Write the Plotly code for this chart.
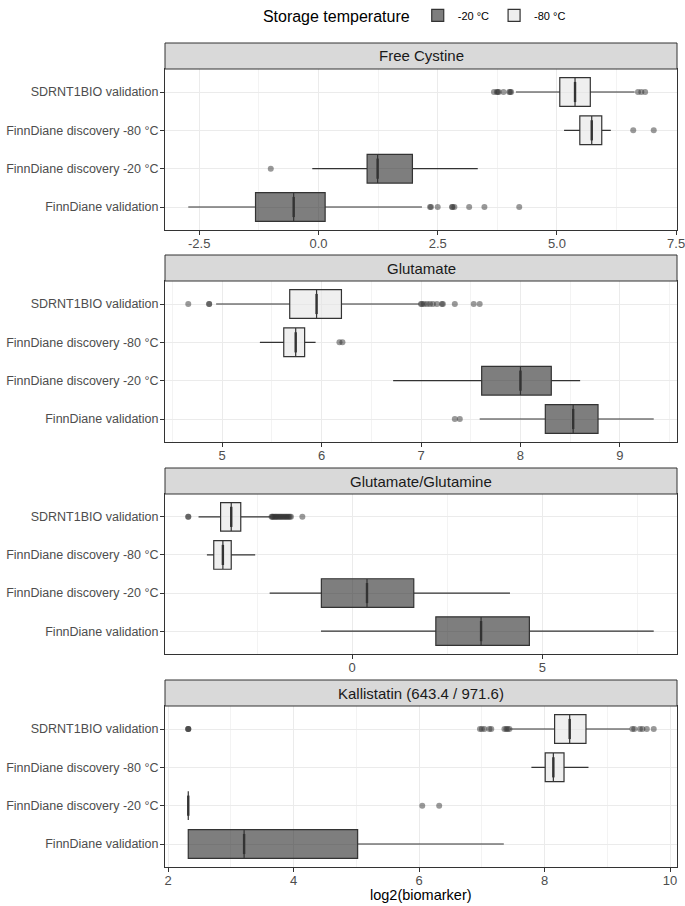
import plotly.graph_objects as go

# ---------------- data ----------------
categories = ["SDRNT1BIO validation", "FinnDiane discovery -80 °C",
              "FinnDiane discovery -20 °C", "FinnDiane validation"]
storage = ["-80 °C", "-80 °C", "-20 °C", "-20 °C"]
cat_order = categories[::-1]  # bottom -> top

panels = ["Free Cystine", "Glutamate", "Glutamate/Glutamine", "Kallistatin (643.4 / 971.6)"]

cys_lo = [4.14, 5.15, -0.13, -2.73]
cys_q1 = [5.06, 5.48, 1.02, -1.32]
cys_med = [5.38, 5.73, 1.24, -0.52]
cys_q3 = [5.70, 5.94, 1.97, 0.14]
cys_hi = [6.63, 6.13, 3.34, 2.17]
cys_out = [[3.68, 3.74, 3.76, 3.78, 3.88, 4.00, 4.02, 4.04, 6.70, 6.77, 6.85],
           [6.60, 7.03],
           [-1.00],
           [2.34, 2.36, 2.50, 2.80, 2.81, 2.85, 3.16, 3.48, 4.21]]

glu_lo = [4.94, 5.38, 6.72, 7.59]
glu_q1 = [5.68, 5.62, 7.61, 8.25]
glu_med = [5.95, 5.74, 8.00, 8.53]
glu_q3 = [6.20, 5.83, 8.31, 8.78]
glu_hi = [6.98, 5.94, 8.60, 9.34]
glu_out = [[4.66, 4.87, 4.87, 7.00, 7.01, 7.03, 7.06, 7.09, 7.12, 7.16, 7.21, 7.22, 7.34, 7.53, 7.59],
           [6.18, 6.21],
           [],
           [7.34, 7.39]]

gg_lo = [-4.04, -3.82, -2.17, -0.82]
gg_q1 = [-3.46, -3.64, -0.81, 2.20]
gg_med = [-3.18, -3.40, 0.39, 3.39]
gg_q3 = [-2.93, -3.18, 1.62, 4.66]
gg_hi = [-2.14, -2.55, 4.15, 7.93]
gg_out = [[-4.31, -4.31, -2.12, -2.10, -2.08, -2.05, -2.02, -2.00, -1.97, -1.94, -1.91, -1.88,
           -1.85, -1.82, -1.79, -1.76, -1.73, -1.70, -1.67, -1.64, -1.61, -1.31],
          [], [], []]

kal_lo = [7.45, 7.79, 2.32, 2.32]
kal_q1 = [8.16, 8.01, 2.32, 2.32]
kal_med = [8.40, 8.14, 2.32, 3.21]
kal_q3 = [8.66, 8.31, 2.32, 5.02]
kal_hi = [9.36, 8.70, 2.32, 7.35]
kal_out = [[2.32, 2.32, 2.32, 6.97, 7.00, 7.04, 7.12, 7.15, 7.36, 7.39, 7.41, 7.44,
            9.40, 9.43, 9.52, 9.56, 9.63, 9.74],
           [], [6.05, 6.32], []]

cys_ticks = [-2.5, 0, 2.5, 5, 7.5]
cys_ticktext = ["-2.5", "0.0", "2.5", "5.0", "7.5"]
cys_minor = [-1.25, 1.25, 3.75, 6.25]
glu_ticks = [5, 6, 7, 8, 9]
glu_ticktext = ["5", "6", "7", "8", "9"]
glu_minor = [4.5, 5.5, 6.5, 7.5, 8.5, 9.5]
gg_ticks = [0, 5]
gg_ticktext = ["0", "5"]
gg_minor = [-2.5, 2.5, 7.5]
kal_ticks = [2, 4, 6, 8, 10]
kal_ticktext = ["2", "4", "6", "8", "10"]
kal_minor = [3, 5, 7, 9]

stats = [
    (cys_lo, cys_q1, cys_med, cys_q3, cys_hi, cys_out, cys_ticks, cys_ticktext, cys_minor),
    (glu_lo, glu_q1, glu_med, glu_q3, glu_hi, glu_out, glu_ticks, glu_ticktext, glu_minor),
    (gg_lo, gg_q1, gg_med, gg_q3, gg_hi, gg_out, gg_ticks, gg_ticktext, gg_minor),
    (kal_lo, kal_q1, kal_med, kal_q3, kal_hi, kal_out, kal_ticks, kal_ticktext, kal_minor),
]

# ---------------- style ----------------
W, H = 685, 906
ML, MR, MT, MB = 165, 8, 69, 39
PH = H - MT - MB
panel_px = [(69, 230), (281, 442), (494, 654), (706, 867)]
STRIP = 26

fills = {"-20 °C": "rgba(40,40,40,0.6)", "-80 °C": "rgba(228,228,228,0.6)"}
LINE = "#333333"
GRID = "#EBEBEB"
GRID_MINOR = "#F3F3F3"
FONT = "Liberation Sans, Arial, Helvetica, sans-serif"

fig = go.Figure()
layout = dict(
    width=W, height=H,
    margin=dict(l=ML, r=MR, t=MT, b=MB, pad=0, autoexpand=False),
    paper_bgcolor="white", plot_bgcolor="white",
    font=dict(family=FONT, color="#1A1A1A"),
    boxmode="overlay",
    showlegend=True,
    legend=dict(orientation="h", x=0.49, xanchor="center", y=1.066, yanchor="middle",
                title=dict(text="Storage temperature", font=dict(size=16, color="black"), side="left"),
                font=dict(size=11, color="black"), itemwidth=30, traceorder="normal",
                bgcolor="rgba(0,0,0,0)"),
    shapes=[], annotations=[],
)

for i, (lo, q1, med, q3, hi, outs, tv, tt, mv) in enumerate(stats):
    n = i + 1
    xa = "x" if n == 1 else f"x{n}"
    ya = "y" if n == 1 else f"y{n}"
    top_px, bot_px = panel_px[i]
    d0 = (H - MB - bot_px) / PH
    d1 = (H - MB - top_px) / PH

    for temp in ["-20 °C", "-80 °C"]:
        idx = [k for k in range(4) if storage[k] == temp]
        fig.add_trace(go.Box(
            orientation="h",
            y=[categories[k] for k in idx],
            q1=[q1[k] for k in idx], median=[med[k] for k in idx], q3=[q3[k] for k in idx],
            lowerfence=[lo[k] for k in idx], upperfence=[hi[k] for k in idx],
            width=0.75, whiskerwidth=0, boxpoints=False,
            fillcolor=fills[temp], line=dict(color=LINE, width=1.2),
            name=temp, legendgroup=temp, showlegend=(i == 0),
            xaxis=xa, yaxis=ya, hoverinfo="skip",
        ))
    # thick medians (ggplot fatten)
    fig.add_trace(go.Scatter(
        x=med, y=categories, mode="markers",
        marker=dict(symbol="line-ns", size=14.4, line=dict(color=LINE, width=2.4)),
        showlegend=False, xaxis=xa, yaxis=ya, hoverinfo="skip"))
    # outliers
    ox, oy = [], []
    for k in range(4):
        ox += outs[k]
        oy += [categories[k]] * len(outs[k])
    fig.add_trace(go.Scatter(
        x=ox, y=oy, mode="markers",
        marker=dict(size=6, color="rgba(51,51,51,0.5)", line=dict(width=0)),
        showlegend=False, xaxis=xa, yaxis=ya, hoverinfo="skip"))

    allv = lo + hi + [v for o in outs for v in o]
    vmin, vmax = min(allv), max(allv)
    pad = 0.05 * (vmax - vmin)

    xkey = "xaxis" if n == 1 else f"xaxis{n}"
    ykey = "yaxis" if n == 1 else f"yaxis{n}"
    layout[xkey] = dict(
        domain=[0, 1], anchor=ya, range=[vmin - pad, vmax + pad], automargin=False,
        tickmode="array", tickvals=tv, ticktext=tt, ticklabeloverflow="allow",
        ticks="outside", ticklen=4, tickwidth=1, tickcolor=LINE,
        tickfont=dict(size=13, color="#4D4D4D"), ticklabelstandoff=-3,
        showgrid=True, gridcolor=GRID, gridwidth=1,
        minor=dict(tickmode="array", tickvals=mv, showgrid=True, gridcolor=GRID_MINOR, gridwidth=1, ticks=""),
        showline=True, mirror=True, linecolor=LINE, linewidth=1, zeroline=False,
    )
    layout[ykey] = dict(
        domain=[d0, d1], anchor=xa, type="category", automargin=False,
        categoryorder="array", categoryarray=cat_order, range=[-0.6, 3.6],
        ticks="outside", ticklen=4, tickwidth=1, tickcolor=LINE,
        tickfont=dict(size=12.5, color="#4D4D4D"), ticklabelstandoff=-1,
        showgrid=True, gridcolor=GRID, gridwidth=1,
        showline=True, mirror=True, linecolor=LINE, linewidth=1, zeroline=False,
    )
    # strip
    s0 = d1
    s1 = d1 + STRIP / PH
    layout["shapes"].append(dict(type="rect", xref="paper", yref="paper", x0=0, x1=1, y0=s0, y1=s1,
                                 fillcolor="#D9D9D9", line=dict(color=LINE, width=1), layer="above"))
    layout["annotations"].append(dict(text=panels[i], xref="paper", yref="paper", x=0.5, y=(s0 + s1) / 2,
                                      xanchor="center", yanchor="middle", showarrow=False,
                                      font=dict(size=15, color="#1A1A1A")))

layout["annotations"].append(dict(text="log2(biomarker)", xref="paper", yref="paper", x=0.5,
                                  y=(H - MB - 895) / PH, xanchor="center", yanchor="middle",
                                  showarrow=False, font=dict(size=14.5, color="black")))

fig.update_layout(**layout)
fig.write_html("out.html", config={"displayModeBar": False},
               post_script="document.body.style.margin='0';document.body.style.overflow='hidden';")
